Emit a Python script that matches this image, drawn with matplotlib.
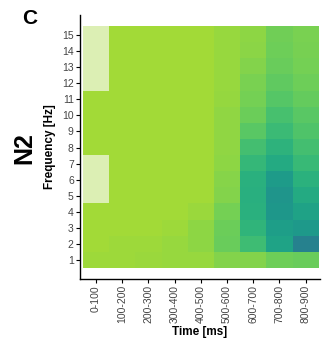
import numpy as np
import matplotlib
matplotlib.use('Agg')
import matplotlib.pyplot as plt

plt.rcParams['font.family'] = ['Liberation Sans', 'DejaVu Sans']

time_bins = ['0-100', '100-200', '200-300', '300-400', '400-500',
             '500-600', '600-700', '700-800', '800-900']
freqs = list(range(1, 16))

# colour position on viridis, one list per time bin, frequency 1 -> 15
# nan = no data (drawn pale)
nan = np.nan
col_0 = [0.855, 0.86, 0.86, 0.86, nan, nan, nan, 0.86, 0.86, 0.86, 0.86, nan, nan, nan, nan]
col_1 = [0.855, 0.855, 0.86, 0.86, 0.86, 0.86, 0.86, 0.86, 0.86, 0.86, 0.86, 0.86, 0.86, 0.86, 0.86]
col_2 = [0.85, 0.855, 0.86, 0.86, 0.86, 0.86, 0.86, 0.86, 0.86, 0.86, 0.86, 0.86, 0.86, 0.86, 0.86]
col_3 = [0.845, 0.845, 0.855, 0.86, 0.86, 0.86, 0.86, 0.86, 0.86, 0.86, 0.86, 0.86, 0.86, 0.86, 0.86]
col_4 = [0.845, 0.83, 0.83, 0.85, 0.86, 0.86, 0.86, 0.86, 0.86, 0.86, 0.86, 0.86, 0.86, 0.86, 0.86]
col_5 = [0.815, 0.77, 0.775, 0.79, 0.815, 0.82, 0.83, 0.835, 0.835, 0.835, 0.84, 0.845, 0.845, 0.845, 0.845]
col_6 = [0.815, 0.69, 0.655, 0.635, 0.63, 0.635, 0.665, 0.70, 0.745, 0.775, 0.79, 0.80, 0.815, 0.825, 0.83]
col_7 = [0.78, 0.58, 0.56, 0.53, 0.52, 0.55, 0.61, 0.645, 0.68, 0.71, 0.735, 0.755, 0.77, 0.78, 0.785]
col_8 = [0.77, 0.44, 0.54, 0.575, 0.61, 0.64, 0.675, 0.70, 0.725, 0.745, 0.765, 0.78, 0.79, 0.795, 0.80]

data = np.array([col_0, col_1, col_2, col_3, col_4, col_5, col_6, col_7, col_8]).T
data = np.ma.masked_invalid(data)

fig = plt.figure(figsize=(3.26, 3.47), dpi=100)
ax = fig.add_axes([0.2454, 0.196, 0.7362, 0.7608])

cmap = plt.get_cmap('viridis').copy()
cmap.set_bad('#dcefb4')
ax.imshow(data, cmap=cmap, vmin=0, vmax=1, origin='lower', aspect='auto',
          extent=(-0.5, len(time_bins) - 0.5, 0.5, len(freqs) + 0.5),
          interpolation='nearest')

ax.set_xlim(-0.614, 8.55)
ax.set_ylim(-0.18, 16.25)

ax.set_xticks(range(len(time_bins)))
ax.set_xticklabels(time_bins, rotation=90)
ax.set_yticks(freqs)
ax.set_yticklabels([str(f) for f in freqs])
ax.tick_params(axis='both', labelsize=7.5, labelcolor='#444444', length=3, width=0.8, pad=1.5)

for side in ['top', 'right']:
    ax.spines[side].set_visible(False)
for side in ['left', 'bottom']:
    ax.spines[side].set_linewidth(1.0)

ax.set_xlabel('Time [ms]', fontsize=8.5, fontweight='bold', labelpad=2)
ax.set_ylabel('Frequency [Hz]', fontsize=8.5, fontweight='bold', labelpad=4)

fig.text(0.075, 0.573, 'N2', fontsize=18, fontweight='bold', rotation=90, ha='center', va='center')
fig.text(0.092, 0.948, 'C', fontsize=15, fontweight='bold', ha='center', va='center')

fig.savefig('out.png', dpi=100)
